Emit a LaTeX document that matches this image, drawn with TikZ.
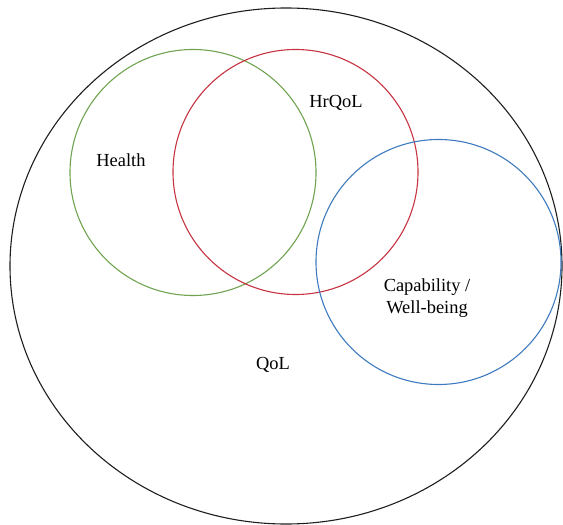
\documentclass[tikz,border=0pt]{standalone}
\usepackage{fontspec}
\setmainfont{Liberation Serif}
\definecolor{cgreen}{RGB}{112,163,80}
\definecolor{cred}{RGB}{198,52,66}
\definecolor{cblue}{RGB}{62,123,190}
\definecolor{cblack}{RGB}{30,30,30}
\tikzset{lbl/.style={font=\fontsize{18.5}{22}\selectfont, text=black, inner sep=0pt}}
\begin{document}
\begin{tikzpicture}[x=1bp,y=-1bp,line width=1.1bp]
\useasboundingbox (0,0) rectangle (563,525);
\begin{scope}
\clip (0,0) rectangle (563,525);
\draw[cblack] (286,266) ellipse [x radius=276, y radius=258];
\end{scope}
\draw[cgreen] (193,172.5) circle [radius=123];
\draw[cred] (295.5,172) circle [radius=122.5];
\draw[cblue] (438.5,262) circle [radius=122.5];
\node[lbl] (health) at (121,160) {Health};
\node[lbl] (hrqol) at (336,103) {HrQoL};
\node[lbl,align=center] (cap) at (427,298) {Capability /\\Well-being};
\node[lbl] (qol) at (273,365) {QoL};
\end{tikzpicture}
\end{document}
